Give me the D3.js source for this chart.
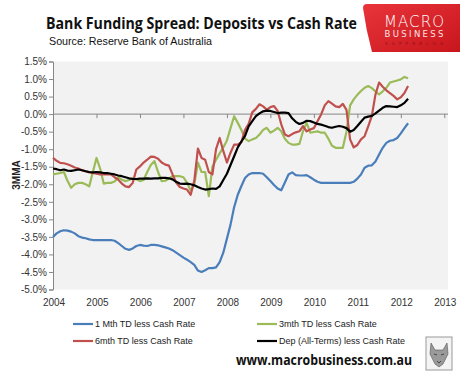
<!DOCTYPE html>
<html>
<head>
<meta charset="utf-8">
<script src="https://cdnjs.cloudflare.com/ajax/libs/d3/7.8.5/d3.min.js"></script>
<style>
    body { margin: 0; background: #fff; }
    svg { display: block; }
    .tick text { font-family: "Liberation Sans", Arial, sans-serif; font-size: 10px; fill: #333; }
    .legend text { font-family: "Liberation Sans", Arial, sans-serif; font-size: 9px; fill: #222; }
</style>
</head>
<body>
<div id="chart"></div>
<script>

// months from Jan 2004 to Mar 2012 (monthly, 3 month moving average)
let startYear = 2004;

let yearTicks = [2004, 2005, 2006, 2007, 2008, 2009, 2010, 2011, 2012, 2013];
let pctTicks = [1.5, 1.0, 0.5, 0.0, -0.5, -1.0, -1.5, -2.0, -2.5, -3.0, -3.5, -4.0, -4.5, -5.0];

// 1 Mth TD less Cash Rate
let oneMonth = [
    -3.50, -3.40, -3.34, -3.31, -3.32, -3.35, -3.40, -3.48, -3.52, -3.54, -3.57, -3.59,
    -3.59, -3.59, -3.59, -3.59, -3.59, -3.61, -3.68, -3.76, -3.84, -3.87, -3.83, -3.76,
    -3.73, -3.75, -3.76, -3.73, -3.73, -3.74, -3.77, -3.80, -3.83, -3.88, -3.95, -4.02,
    -4.09, -4.15, -4.22, -4.30, -4.46, -4.50, -4.45, -4.39, -4.39, -4.37, -4.22, -3.95,
    -3.55, -3.15, -2.65, -2.30, -2.05, -1.82, -1.72, -1.68, -1.68, -1.68, -1.70, -1.80,
    -1.91, -2.02, -2.12, -2.17, -1.95, -1.72, -1.66, -1.74, -1.75, -1.75, -1.74, -1.80,
    -1.87, -1.93, -1.96, -1.96, -1.96, -1.96, -1.96, -1.96, -1.96, -1.96, -1.96, -1.93,
    -1.84, -1.72, -1.53, -1.47, -1.46, -1.35, -1.15, -0.96, -0.82, -0.76, -0.74, -0.68,
    -0.55, -0.40, -0.26
];

// 3mth TD less Cash Rate
let threeMonth = [
    -1.72, -1.70, -1.68, -1.65, -1.90, -2.10, -2.00, -1.96, -1.96, -2.00, -2.06, -1.65,
    -1.25, -1.55, -1.98, -1.96, -1.96, -1.92, -1.80, -1.87, -1.91, -1.88, -1.82, -1.86,
    -1.91, -1.88, -1.65, -1.45, -1.34, -1.65, -1.91, -1.90, -1.84, -1.77, -1.77, -1.77,
    -1.80, -1.96, -2.18, -2.00, -1.38, -1.65, -1.65, -2.34, -1.50, -1.30, -1.12, -0.95,
    -0.75, -0.40, -0.06, -0.25, -0.45, -0.70, -0.77, -0.72, -0.68, -0.58, -0.45, -0.39,
    -0.53, -0.47, -0.39, -0.49, -0.70, -0.82, -0.87, -0.87, -0.85, -0.49, -0.25, -0.53,
    -0.51, -0.49, -0.53, -0.53, -0.70, -0.90, -0.96, -0.96, -0.96, -0.50, 0.25, 0.42,
    0.55, 0.66, 0.75, 0.80, 0.74, 0.65, 0.56, 0.65, 0.75, 0.90, 0.93, 0.96,
    0.99, 1.06, 1.02
];

// 6mth TD less Cash Rate
let sixMonth = [
    -1.25, -1.33, -1.39, -1.40, -1.43, -1.47, -1.52, -1.55, -1.60, -1.63, -1.66, -1.68,
    -1.70, -1.72, -1.72, -1.72, -1.72, -1.80, -1.87, -1.98, -2.06, -2.08, -1.96, -1.58,
    -1.49, -1.38, -1.30, -1.21, -1.22, -1.27, -1.38, -1.44, -1.47, -1.72, -1.95, -2.08,
    -2.12, -2.15, -2.30, -1.90, -0.98, -1.25, -1.30, -1.65, -1.72, -1.00, -0.68, -1.05,
    -1.38, -1.10, -0.87, -0.87, -0.80, -0.45, -0.28, 0.05, 0.15, 0.28, 0.22, 0.13,
    0.20, 0.23, 0.09, -0.29, -0.58, -0.63, -0.57, -0.52, -0.49, -0.34, -0.49, -0.44,
    -0.40, -0.20, -0.01, 0.25, 0.37, 0.30, 0.22, 0.20, 0.29, 0.12, -0.72, -0.95,
    -0.88, -0.72, -0.63, -0.35, -0.05, 0.56, 0.90, 0.78, 0.68, 0.60, 0.52, 0.42,
    0.48, 0.60, 0.80
];

// Dep (All-Terms) less Cash Rate
let allTerms = [
    -1.55, -1.57, -1.60, -1.58, -1.61, -1.62, -1.60, -1.58, -1.60, -1.63, -1.65, -1.66,
    -1.65, -1.66, -1.68, -1.68, -1.70, -1.72, -1.75, -1.77, -1.80, -1.83, -1.85, -1.85,
    -1.84, -1.84, -1.83, -1.84, -1.83, -1.83, -1.82, -1.82, -1.83, -1.86, -1.93, -1.98,
    -1.99, -1.98, -2.00, -2.03, -2.08, -2.12, -2.15, -2.14, -2.12, -2.13, -2.06, -1.88,
    -1.70, -1.45, -1.20, -0.95, -0.78, -0.62, -0.35, -0.20, -0.06, 0.02, 0.08, 0.10,
    0.09, 0.06, 0.03, 0.04, 0.04, 0.03, -0.12, -0.22, -0.28, -0.25, -0.19, -0.20,
    -0.24, -0.28, -0.30, -0.33, -0.37, -0.39, -0.36, -0.34, -0.36, -0.40, -0.50, -0.45,
    -0.34, -0.22, -0.10, -0.07, -0.05, 0.02, 0.10, 0.18, 0.23, 0.22, 0.21, 0.20,
    0.25, 0.32, 0.44
];

let seriesNames = ["1 Mth TD less Cash Rate", "3mth TD less Cash Rate", "6mth TD less Cash Rate", "Dep (All-Terms) less Cash Rate"];
let seriesColors = ["#4a7ebb", "#9bbb59", "#c0504d", "#000000"];
let seriesValues = [oneMonth, threeMonth, sixMonth, allTerms];


let width = 470, height = 376;

let svg = d3.select("#chart").append("svg")
    .attr("width", width)
    .attr("height", height);

// plot area
let plot = {left: 53, right: 448, top: 61.5, bottom: 289.5};

let x = d3.scaleLinear()
    .domain([2004, 2013])
    .range([plot.left, 444.3]);

let y = d3.scaleLinear()
    .domain([-5, 1.5])
    .range([plot.bottom, plot.top]);

svg.append("rect")
    .attr("x", plot.left)
    .attr("y", plot.top)
    .attr("width", plot.right - plot.left)
    .attr("height", plot.bottom - plot.top)
    .attr("fill", "#f2f2f2");

// y axis
let yAxis = d3.axisLeft(y)
    .tickValues(pctTicks)
    .tickSize(4)
    .tickPadding(2)
    .tickFormat(d => d.toFixed(1) + "%");

let yG = svg.append("g")
    .attr("transform", "translate(" + plot.left + ",0)")
    .call(yAxis);
yG.selectAll("path, line").attr("stroke", "#868686");

// x axis sits on the zero line, labels down at the bottom
let xAxis = d3.axisBottom(x)
    .tickValues(yearTicks)
    .tickSize(4)
    .tickFormat("");

let xG = svg.append("g")
    .attr("transform", "translate(0," + y(0) + ")")
    .call(xAxis);
xG.select(".domain").attr("d", "M" + plot.left + ",0H" + plot.right);
xG.selectAll("path, line").attr("stroke", "#868686");

svg.append("g")
    .attr("class", "tick")
    .selectAll("text")
    .data(yearTicks)
    .join("text")
    .attr("x", d => x(d) + 1)
    .attr("y", 306)
    .attr("text-anchor", "middle")
    .text(d => d);

// axis title
svg.append("text")
    .attr("transform", "translate(20,175) rotate(-90)")
    .attr("text-anchor", "middle")
    .style("font-family", "Liberation Sans, Arial, sans-serif")
    .style("font-size", "10px")
    .style("font-weight", "bold")
    .attr("fill", "#222")
    .text("3MMA");

// lines
let line = d3.line()
    .x((d, i) => x(startYear + i / 12))
    .y(d => y(d));

svg.append("g")
    .selectAll("path")
    .data(seriesValues)
    .join("path")
    .attr("fill", "none")
    .attr("stroke", (d, i) => seriesColors[i])
    .attr("stroke-width", 2.2)
    .attr("stroke-linejoin", "round")
    .attr("d", line);

// title + source
svg.append("text")
    .attr("x", 46)
    .attr("y", 28.5)
    .style("font-family", "Open Sans, sans-serif")
    .style("font-size", "15.5px")
    .style("font-weight", "bold")
    .attr("textLength", 311)
    .attr("lengthAdjust", "spacingAndGlyphs")
    .attr("fill", "#111")
    .text("Bank Funding Spread: Deposits vs Cash Rate");

svg.append("text")
    .attr("x", 49)
    .attr("y", 44.5)
    .style("font-family", "Liberation Sans, Arial, sans-serif")
    .style("font-size", "11.5px")
    .attr("textLength", 163)
    .attr("lengthAdjust", "spacingAndGlyphs")
    .attr("fill", "#111")
    .text("Source: Reserve Bank of Australia");

// legend
let legendPos = [[73, 324], [257, 324], [73, 341], [257, 341]];
let legend = svg.append("g").attr("class", "legend");
seriesNames.forEach((name, i) => {
    let g = legend.append("g").attr("transform", "translate(" + legendPos[i][0] + "," + legendPos[i][1] + ")");
    g.append("line")
        .attr("x1", 0).attr("x2", 20)
        .attr("stroke", seriesColors[i])
        .attr("stroke-width", 2.2);
    g.append("text")
        .attr("x", 22)
        .attr("y", 3.3)
        .text(name);
});

// website
svg.append("text")
    .attr("x", 236)
    .attr("y", 365)
    .style("font-family", "Open Sans, sans-serif")
    .style("font-size", "13.5px")
    .style("font-weight", "bold")
    .attr("textLength", 176)
    .attr("lengthAdjust", "spacingAndGlyphs")
    .attr("fill", "#111")
    .text("www.macrobusiness.com.au");

// MacroBusiness logo box
let defs = svg.append("defs");
let grad = defs.append("linearGradient")
    .attr("id", "redGrad")
    .attr("x1", 0).attr("y1", 0).attr("x2", 1).attr("y2", 1);
grad.append("stop").attr("offset", "0%").attr("stop-color", "#e8343a");
grad.append("stop").attr("offset", "100%").attr("stop-color", "#c8161d");

svg.append("path")
    .attr("d", "M367,4 H460 V52 H372 Q366,30 363,8 Q363,4 367,4 Z")
    .attr("fill", "url(#redGrad)");

svg.append("text")
    .attr("x", 414).attr("y", 26.5)
    .attr("text-anchor", "middle")
    .style("font-family", "DejaVu Sans, sans-serif")
    .style("font-size", "15px")
    .style("font-weight", "200")
    .attr("textLength", 60)
    .attr("lengthAdjust", "spacing")
    .attr("fill", "#fff")
    .text("MACRO");

svg.append("text")
    .attr("x", 414).attr("y", 37)
    .attr("text-anchor", "middle")
    .style("font-family", "DejaVu Sans, sans-serif")
    .style("font-size", "8.5px")
    .attr("textLength", 59)
    .attr("lengthAdjust", "spacing")
    .attr("fill", "#fbe3e3")
    .text("BUSINESS");

svg.append("text")
    .attr("x", 414).attr("y", 44.5)
    .attr("text-anchor", "middle")
    .style("font-family", "DejaVu Sans, sans-serif")
    .style("font-size", "4px")
    .attr("textLength", 58)
    .attr("fill", "#8e1015")
    .text("SUPERBLOG");

// wolf badge
let badge = svg.append("g").attr("transform", "translate(426,337)");
badge.append("rect")
    .attr("width", 26).attr("height", 33)
    .attr("fill", "#f4f4f4")
    .attr("stroke", "#999");
badge.append("path")
    .attr("d", "M5,6 L9,13 L17,13 L21,6 L22,17 L17,27 L13,30 L9,27 L4,17 Z")
    .attr("fill", "#9a9a9a")
    .attr("stroke", "#555")
    .attr("stroke-width", 0.6);
badge.append("path")
    .attr("d", "M8,17 L11,18 M15,18 L18,17 M11,24 L13,26 L15,24")
    .attr("stroke", "#333")
    .attr("stroke-width", 0.8)
    .attr("fill", "none");

</script>
</body>
</html>
